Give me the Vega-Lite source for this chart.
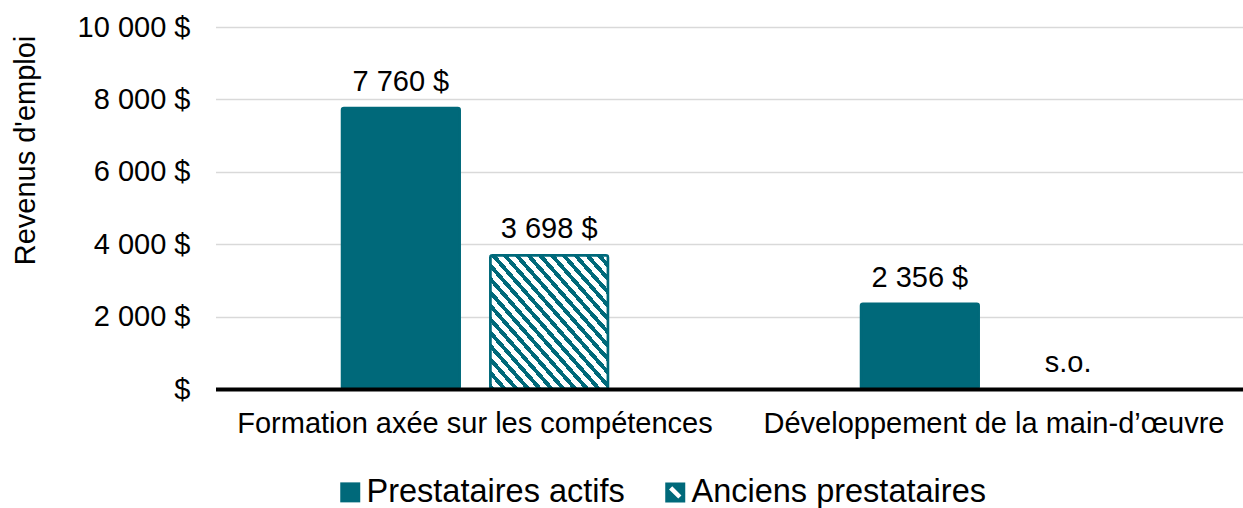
{
  "$schema": "https://vega.github.io/schema/vega-lite/v6.json",
  "autosize": {"type": "none"},
  "width": 1029,
  "height": 362,
  "padding": {"left": 214, "top": 27, "right": 0, "bottom": 119},
  "background": "white",
  "config": {
    "font": "Liberation Sans",
    "view": {"stroke": null}
  },
  "data": {
    "values": [
      {"categorie": "Formation axée sur les compétences", "statut": "Prestataires actifs", "revenu": 7760, "etiquette": "7 760 $"},
      {"categorie": "Formation axée sur les compétences", "statut": "Anciens prestataires", "revenu": 3698, "etiquette": "3 698 $"},
      {"categorie": "Développement de la main-d’œuvre", "statut": "Prestataires actifs", "revenu": 2356, "etiquette": "2 356 $"},
      {"categorie": "Développement de la main-d’œuvre", "statut": "Anciens prestataires", "revenu": null, "etiquette": "s.o."}
    ]
  },
  "encoding": {
    "x": {
      "field": "categorie", "type": "nominal", "sort": null,
      "scale": {"paddingInner": 0, "paddingOuter": 0, "range": [1.5, 1039.5]},
      "axis": {
        "title": null, "labelAngle": 0, "ticks": false, "domain": true,
        "domainColor": "black", "domainWidth": 4, "labelFontSize": 29,
        "labelColor": "black", "labelPadding": 20, "labelLimit": 0, "zindex": 1
      }
    },
    "xOffset": {
      "field": "statut", "type": "nominal",
      "sort": ["Prestataires actifs", "Anciens prestataires"],
      "scale": {"paddingInner": 0.206, "paddingOuter": 0.853}
    }
  },
  "layer": [
    {
      "mark": {"type": "bar", "stroke": "#00697A", "strokeWidth": 2.5, "cornerRadius": 2},
      "encoding": {
        "y": {
          "field": "revenu", "type": "quantitative",
          "scale": {"domain": [0, 10000], "nice": false},
          "axis": {
            "values": [0, 2000, 4000, 6000, 8000, 10000],
            "labelExpr": "datum.value == 0 ? '$' : replace(format(datum.value, ',d'), ',', ' ') + ' $'",
            "grid": true, "gridColor": "#D9D9D9", "gridWidth": 1.3,
            "ticks": false, "domain": false, "labelPadding": 24,
            "labelFontSize": 29, "labelColor": "black",
            "title": "Revenus d'emploi", "titleFontSize": 29, "titleFontWeight": "normal",
            "titleColor": "black", "titleX": -189, "titleY": 123, "titleAnchor": "middle",
            "titleBaseline": "middle", "titleAngle": -90
          }
        },
        "fill": {
          "condition": {
            "test": "datum.statut === 'Anciens prestataires'",
            "value": {
              "gradient": "linear", "x1": 0, "y1": 1, "x2": 1, "y2": 0,
              "stops": [
                {"offset": 0, "color": "#00697A"}, {"offset": 0.0225, "color": "#00697A"}, {"offset": 0.0225, "color": "#ffffff"}, {"offset": 0.05, "color": "#ffffff"},
                {"offset": 0.05, "color": "#00697A"}, {"offset": 0.0725, "color": "#00697A"}, {"offset": 0.0725, "color": "#ffffff"}, {"offset": 0.1, "color": "#ffffff"},
                {"offset": 0.1, "color": "#00697A"}, {"offset": 0.1225, "color": "#00697A"}, {"offset": 0.1225, "color": "#ffffff"}, {"offset": 0.15, "color": "#ffffff"},
                {"offset": 0.15, "color": "#00697A"}, {"offset": 0.1725, "color": "#00697A"}, {"offset": 0.1725, "color": "#ffffff"}, {"offset": 0.2, "color": "#ffffff"},
                {"offset": 0.2, "color": "#00697A"}, {"offset": 0.2225, "color": "#00697A"}, {"offset": 0.2225, "color": "#ffffff"}, {"offset": 0.25, "color": "#ffffff"},
                {"offset": 0.25, "color": "#00697A"}, {"offset": 0.2725, "color": "#00697A"}, {"offset": 0.2725, "color": "#ffffff"}, {"offset": 0.3, "color": "#ffffff"},
                {"offset": 0.3, "color": "#00697A"}, {"offset": 0.3225, "color": "#00697A"}, {"offset": 0.3225, "color": "#ffffff"}, {"offset": 0.35, "color": "#ffffff"},
                {"offset": 0.35, "color": "#00697A"}, {"offset": 0.3725, "color": "#00697A"}, {"offset": 0.3725, "color": "#ffffff"}, {"offset": 0.4, "color": "#ffffff"},
                {"offset": 0.4, "color": "#00697A"}, {"offset": 0.4225, "color": "#00697A"}, {"offset": 0.4225, "color": "#ffffff"}, {"offset": 0.45, "color": "#ffffff"},
                {"offset": 0.45, "color": "#00697A"}, {"offset": 0.4725, "color": "#00697A"}, {"offset": 0.4725, "color": "#ffffff"}, {"offset": 0.5, "color": "#ffffff"},
                {"offset": 0.5, "color": "#00697A"}, {"offset": 0.5225, "color": "#00697A"}, {"offset": 0.5225, "color": "#ffffff"}, {"offset": 0.55, "color": "#ffffff"},
                {"offset": 0.55, "color": "#00697A"}, {"offset": 0.5725, "color": "#00697A"}, {"offset": 0.5725, "color": "#ffffff"}, {"offset": 0.6, "color": "#ffffff"},
                {"offset": 0.6, "color": "#00697A"}, {"offset": 0.6225, "color": "#00697A"}, {"offset": 0.6225, "color": "#ffffff"}, {"offset": 0.65, "color": "#ffffff"},
                {"offset": 0.65, "color": "#00697A"}, {"offset": 0.6725, "color": "#00697A"}, {"offset": 0.6725, "color": "#ffffff"}, {"offset": 0.7, "color": "#ffffff"},
                {"offset": 0.7, "color": "#00697A"}, {"offset": 0.7225, "color": "#00697A"}, {"offset": 0.7225, "color": "#ffffff"}, {"offset": 0.75, "color": "#ffffff"},
                {"offset": 0.75, "color": "#00697A"}, {"offset": 0.7725, "color": "#00697A"}, {"offset": 0.7725, "color": "#ffffff"}, {"offset": 0.8, "color": "#ffffff"},
                {"offset": 0.8, "color": "#00697A"}, {"offset": 0.8225, "color": "#00697A"}, {"offset": 0.8225, "color": "#ffffff"}, {"offset": 0.85, "color": "#ffffff"},
                {"offset": 0.85, "color": "#00697A"}, {"offset": 0.8725, "color": "#00697A"}, {"offset": 0.8725, "color": "#ffffff"}, {"offset": 0.9, "color": "#ffffff"},
                {"offset": 0.9, "color": "#00697A"}, {"offset": 0.9225, "color": "#00697A"}, {"offset": 0.9225, "color": "#ffffff"}, {"offset": 0.95, "color": "#ffffff"},
                {"offset": 0.95, "color": "#00697A"}, {"offset": 0.9725, "color": "#00697A"}, {"offset": 0.9725, "color": "#ffffff"}, {"offset": 1, "color": "#ffffff"}
              ]
            }
          },
          "value": "#00697A"
        }
      }
    },
    {
      "mark": {"type": "point", "filled": true, "color": "#00697A", "size": 0},
      "encoding": {
        "y": {"datum": 0, "type": "quantitative"},
        "shape": {
          "field": "statut", "type": "nominal",
          "sort": ["Prestataires actifs", "Anciens prestataires"],
          "scale": {
            "domain": ["Prestataires actifs", "Anciens prestataires"],
            "range": ["square", "M-1,-1H1V1H-1Z M-0.3,-0.62 L-0.62,-0.3 L0.3,0.62 L0.62,0.3 Z"]
          },
          "legend": {
            "title": null, "orient": "none", "direction": "horizontal",
            "legendX": 120, "legendY": 449, "padding": 0,
            "symbolSize": 400, "symbolStrokeWidth": 0,
            "symbolFillColor": "#00697A", "symbolOpacity": 1,
            "labelFontSize": 32.5, "labelColor": "black", "labelOffset": 0,
            "columnPadding": 34, "labelLimit": 0
          }
        }
      }
    },
    {
      "transform": [{"filter": "isValid(datum.revenu)"}],
      "mark": {"type": "text", "fontSize": 29, "baseline": "alphabetic", "dy": -17, "color": "black"},
      "encoding": {
        "y": {"field": "revenu", "type": "quantitative"},
        "text": {"field": "etiquette"}
      }
    },
    {
      "transform": [{"filter": "!isValid(datum.revenu)"}],
      "mark": {"type": "text", "fontSize": 29, "baseline": "alphabetic", "dy": -17, "color": "black"},
      "encoding": {
        "y": {"datum": 0, "type": "quantitative"},
        "text": {"field": "etiquette"}
      }
    }
  ]
}
